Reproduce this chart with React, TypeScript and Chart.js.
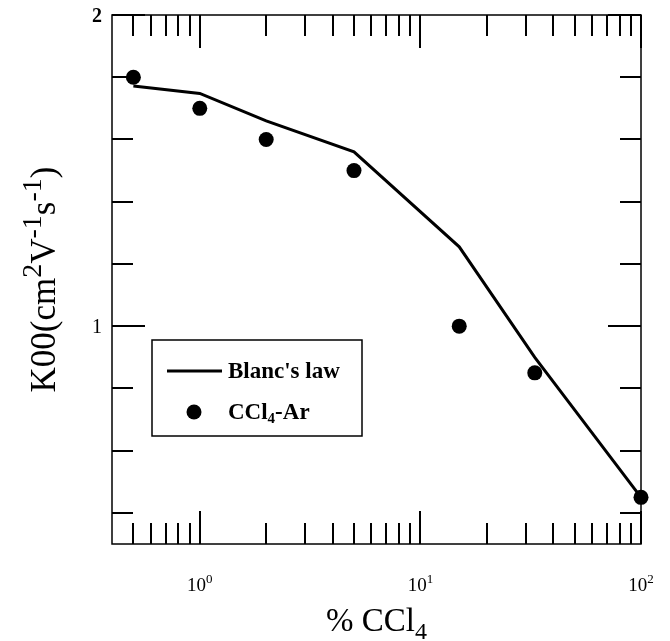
import { useEffect, useRef } from "react";
import { Chart, registerables } from "chart.js";

Chart.register(...registerables);

// ---- data ----
const blancX = [0.5, 1, 2, 5, 15, 33, 100];
const blancY = [1.772, 1.748, 1.66, 1.56, 1.255, 0.9, 0.45];
const ccl4X = [0.5, 1, 2, 5, 15, 33, 100];
const ccl4Y = [1.8, 1.7, 1.6, 1.5, 1.0, 0.85, 0.45];

const xMin = 0.4;
const xMax = 100;
const yMin = 0.3;
const yMax = 2;

const xMajorTicks = [1, 10, 100];
const xMajorLabels = ["0", "1", "2"]; // exponents of 10
const xMinorTicks = [0.5, 0.6, 0.7, 0.8, 0.9, 2, 3, 4, 5, 6, 7, 8, 9, 20, 30, 40, 50, 60, 70, 80, 90];
const yTicks = [0.4, 0.6, 0.8, 1.0, 1.2, 1.4, 1.6, 1.8, 2.0];
const yMajorTicks = [1, 2];
const yLabels = ["1", "2"];

const SERIF = '"Liberation Serif", "Times New Roman", "DejaVu Serif", serif';

type Seg = { t: string; size: number; weight?: string; dy?: number };

function segWidth(ctx: CanvasRenderingContext2D, segs: Seg[]) {
  let w = 0;
  for (const s of segs) {
    ctx.font = `${s.weight || "normal"} ${s.size}px ${SERIF}`;
    w += ctx.measureText(s.t).width;
  }
  return w;
}

function drawSegs(ctx: CanvasRenderingContext2D, segs: Seg[], x: number, y: number, align: "left" | "center" | "right") {
  const w = segWidth(ctx, segs);
  let cx = align === "left" ? x : align === "center" ? x - w / 2 : x - w;
  ctx.textAlign = "left";
  ctx.textBaseline = "alphabetic";
  for (const s of segs) {
    ctx.font = `${s.weight || "normal"} ${s.size}px ${SERIF}`;
    ctx.fillText(s.t, cx, y + (s.dy || 0));
    cx += ctx.measureText(s.t).width;
  }
}

const framePlugin = {
  id: "frame",
  afterDraw(chart: any) {
    const ctx: CanvasRenderingContext2D = chart.ctx;
    const { left, right, top, bottom } = chart.chartArea;
    const xs = chart.scales.x;
    const ys = chart.scales.y;
    ctx.save();
    ctx.strokeStyle = "#000";
    ctx.fillStyle = "#000";

    // frame
    ctx.lineWidth = 1.5;
    ctx.strokeRect(left, top, right - left, bottom - top);

    // ticks
    ctx.lineWidth = 2;
    const minorLen = 21;
    const majorLen = 33;
    ctx.beginPath();
    for (const v of xMinorTicks) {
      const px = Math.round(xs.getPixelForValue(v));
      ctx.moveTo(px, bottom); ctx.lineTo(px, bottom - minorLen);
      ctx.moveTo(px, top); ctx.lineTo(px, top + minorLen);
    }
    for (const v of xMajorTicks) {
      const px = Math.round(xs.getPixelForValue(v));
      ctx.moveTo(px, bottom); ctx.lineTo(px, bottom - majorLen);
      ctx.moveTo(px, top); ctx.lineTo(px, top + majorLen);
    }
    for (const v of yTicks) {
      const py = Math.round(ys.getPixelForValue(v));
      const len = yMajorTicks.includes(v) ? majorLen : minorLen;
      ctx.moveTo(left, py); ctx.lineTo(left + len, py);
      ctx.moveTo(right, py); ctx.lineTo(right - len, py);
    }
    ctx.stroke();

    // x tick labels 10^n
    xMajorTicks.forEach((v, i) => {
      const px = xs.getPixelForValue(v);
      drawSegs(ctx, [
        { t: "10", size: 19 },
        { t: xMajorLabels[i], size: 13, dy: -8 },
      ], px, 591, "center");
    });

    // y tick labels
    yMajorTicks.forEach((v, i) => {
      const py = ys.getPixelForValue(v);
      drawSegs(ctx, [{ t: yLabels[i], size: 20, weight: v === 2 ? "bold" : "normal" }], 102, py + 7, "right");
    });

    // x title
    drawSegs(ctx, [
      { t: "% CCl", size: 33 },
      { t: "4", size: 24, dy: 8 },
    ], (left + right) / 2, 631, "center");

    // y title
    ctx.save();
    ctx.translate(55, (top + bottom) / 2);
    ctx.rotate(-Math.PI / 2);
    const F = 35;
    const S = 28;
    const up = -14;
    drawSegs(ctx, [
      { t: "K", size: F },
      { t: "00", size: F },
      { t: "(cm", size: F },
      { t: "2", size: S, dy: up },
      { t: "V", size: F },
      { t: "-1", size: S, dy: up },
      { t: "s", size: F },
      { t: "-1", size: S, dy: up },
      { t: ")", size: F },
    ], 0, 0, "center");
    ctx.restore();

    // legend
    const lx = 152, ly = 340, lw = 210, lh = 96;
    ctx.fillStyle = "#fff";
    ctx.fillRect(lx, ly, lw, lh);
    ctx.fillStyle = "#000";
    ctx.lineWidth = 1.5;
    ctx.strokeRect(lx, ly, lw, lh);
    ctx.lineWidth = 3;
    ctx.beginPath();
    ctx.moveTo(167, 371);
    ctx.lineTo(222, 371);
    ctx.stroke();
    ctx.beginPath();
    ctx.arc(194, 412, 7.5, 0, Math.PI * 2);
    ctx.fill();
    drawSegs(ctx, [{ t: "Blanc's law", size: 23, weight: "bold" }], 228, 378, "left");
    drawSegs(ctx, [
      { t: "CCl", size: 23, weight: "bold" },
      { t: "4", size: 15, weight: "bold", dy: 4 },
      { t: "-Ar", size: 23, weight: "bold" },
    ], 228, 419, "left");

    ctx.restore();
  },
};

export default function App() {
  const ref = useRef<HTMLCanvasElement>(null);
  useEffect(() => {
    const chart = new Chart(ref.current as HTMLCanvasElement, {
      type: "scatter",
      data: {
        datasets: [
          {
            label: "Blanc's law",
            data: blancX.map((x, i) => ({ x, y: blancY[i] })),
            showLine: true,
            borderColor: "#000",
            backgroundColor: "#000",
            borderWidth: 3,
            pointRadius: 0,
            clip: false,
          } as any,
          {
            label: "CCl4-Ar",
            data: ccl4X.map((x, i) => ({ x, y: ccl4Y[i] })),
            showLine: false,
            pointRadius: 7.5,
            backgroundColor: "#000",
            borderWidth: 0,
            clip: false,
          } as any,
        ],
      },
      options: {
        animation: false,
        responsive: true,
        maintainAspectRatio: false,
        layout: { padding: { left: 112, top: 15, right: 29, bottom: 97 } },
        plugins: { legend: { display: false }, tooltip: { enabled: false } },
        scales: {
          x: { type: "logarithmic", min: xMin, max: xMax, display: false },
          y: { type: "linear", min: yMin, max: yMax, display: false },
        },
      },
      plugins: [framePlugin],
    });
    return () => chart.destroy();
  }, []);
  return (
    <div style={{ position: "fixed", left: 0, top: 0, width: 670, height: 641, background: "#fff" }}>
      <canvas ref={ref} />
    </div>
  );
}
